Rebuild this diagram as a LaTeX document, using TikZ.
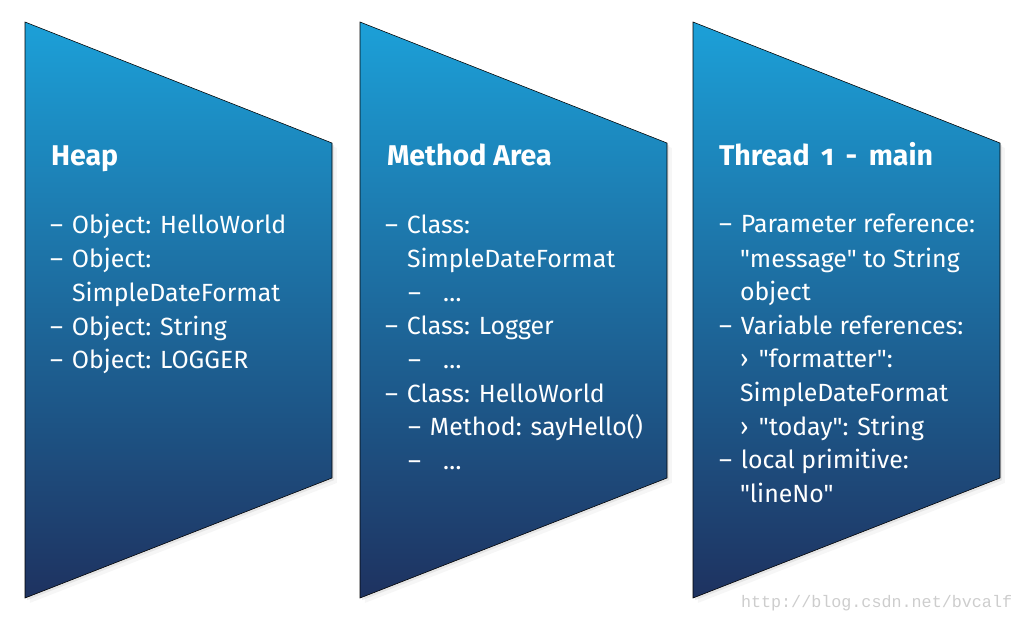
\documentclass[tikz,border=0pt]{standalone}
\usepackage{fontspec}
\setmainfont{Fira Sans}[Ligatures=TeXOff]
\newfontfamily\wmfont{Liberation Mono}
\usetikzlibrary{shadows}
\definecolor{paneltop}{RGB}{28,160,216}
\definecolor{panelmid}{RGB}{0,124,178}
\definecolor{panelbot}{RGB}{30,50,96}
\definecolor{wmgray}{RGB}{205,205,205}
\newcommand{\dsh}{\makebox[15.6pt][l]{–}}
\newcommand{\ddsh}{\makebox[24.9pt][l]{–}}
\newcommand{\arr}{\makebox[13.5pt][l]{›}}

\begin{document}
\begin{tikzpicture}[x=0.025cm,y=-0.025cm,inner sep=0pt,outer sep=0pt,
panel/.style={top color=paneltop,middle color=panelmid,bottom color=panelbot,
  drop shadow={shadow xshift=1.5pt,shadow yshift=-1.5pt,opacity=.15},
  drop shadow={shadow xshift=3.5pt,shadow yshift=-3.5pt,opacity=.07}},
title/.style={anchor=base west,text=white,font=\fontsize{20.3}{24}\selectfont\bfseries},
item/.style={anchor=base west,text=white,font=\fontsize{17.7}{24}\selectfont}]

\useasboundingbox (0,0) rectangle (1024,621);

% the three memory areas
\foreach \x in {25,360,693}
  \draw[panel] (\x,22) -- (\x+307,143) -- (\x+307,478) -- (\x,598) -- cycle;

% heap
\draw (51,165) node[title] (heap) {Heap};
\foreach \x/\y/\t [count=\i] in {50/233/{\dsh Object: HelloWorld},
    50/267/{\dsh Object:},
    72/301/{SimpleDateFormat},
    50/335/{\dsh Object: String},
    50/368/{\dsh Object: LOGGER}}
  \draw (\x,\y) node[item] (heap\i) {\t};

% method area
\draw (387,165) node[title] (method) {Method Area};
\foreach \x/\y/\t [count=\i] in {385/233/{\dsh Class:},
    407/267/{SimpleDateFormat},
    408/301/{\ddsh …},
    385/334/{\dsh Class: Logger},
    408/368/{\ddsh …},
    385/402/{\dsh Class: HelloWorld},
    408/435/{\dsh Method: sayHello()},
    408/469/{\ddsh …}}
  \draw (\x,\y) node[item] (method\i) {\t};

% thread stack
\draw (719,165) node[title] (thread) {Thread\, {\addfontfeatures{Numbers=OldStyle}1}\, -\, main};
\foreach \x/\y/\t [count=\i] in {719/232/{\dsh Parameter reference:},
    740/267/{"message" to String},
    740/300/{object},
    719/334/{\dsh Variable references:},
    740/367/{\arr"formatter":},
    740/401/{SimpleDateFormat},
    740/435/{\arr"today": String},
    719/468/{\dsh local primitive:},
    740/502/{"lineNo"}}
  \draw (\x,\y) node[item] (thread\i) {\t};

\draw (741,607) node[anchor=base west,text=wmgray,font=\wmfont\fontsize{11.9}{14}\selectfont] (wm) {http://blog.csdn.net/bvcalf};
\end{tikzpicture}
\end{document}
